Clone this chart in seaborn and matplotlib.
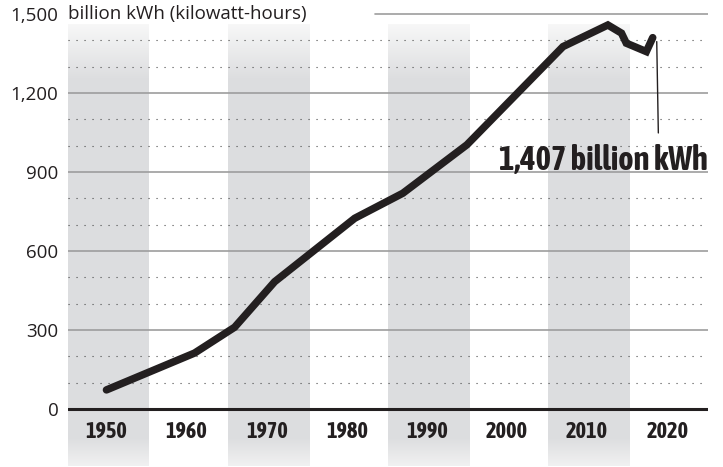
import numpy as np
import matplotlib
matplotlib.use('Agg')
import matplotlib.pyplot as plt
import seaborn as sns

# values (billion kWh)
YEARS = [1950, 1961, 1966, 1971, 1981, 1987, 1995, 2007, 2012.6, 2014.3, 2014.9, 2017.4, 2018.2]
VALUES = [72, 212, 310, 483, 724, 819, 1003, 1376, 1458, 1427, 1389, 1357, 1410]
DECADES = [1950, 1960, 1970, 1980, 1990, 2000, 2010, 2020]
BANDS = [(1945, 1955.3), (1965.2, 1975.4), (1985.1, 1995.3), (2005.1, 2015.3)]
YTICKS = [0, 300, 600, 900, 1200, 1500]
DOTTED = [100, 200, 400, 500, 700, 800, 1000, 1100, 1300, 1400]
UNIT_LABEL = 'billion kWh (kilowatt-hours)'
LAST_LABEL = '1,407 billion kWh'

XLIM = (1945.2, 2025.1)
YLIM = (-217, 1515)
NARROW = ['Asap Condensed', 'DejaVu Sans']


def band_image(y0, y1, n=400):
    # vertical gradient: light at top, grey body, fading below the axis
    ys = np.linspace(y0, y1, n)
    gray = np.array([0.863, 0.867, 0.875])
    light = np.array([0.97, 0.97, 0.97])
    t = np.ones(n)
    top = ys > 1250
    t[top] = np.clip((1460 - ys[top]) / 210, 0, 1)
    bot = ys < -110
    t[bot] = np.clip((ys[bot] + 217) / 107, 0, 1) * 0.75 + 0.25
    cols = light[None, :] * (1 - t[:, None]) + gray[None, :] * t[:, None]
    return cols[::-1][:, None, :]


def main():
    sns.set_style('white')
    plt.rcParams['font.family'] = ['Open Sans', 'DejaVu Sans']

    fig = plt.figure(figsize=(7.23, 4.67), dpi=100)
    ax = fig.add_axes([68 / 723, 1 - 466 / 467, 640 / 723, 456 / 467])

    for x0, x1 in BANDS:
        ax.imshow(band_image(YLIM[0], 1460), extent=(x0, x1, YLIM[0], 1460),
                  aspect='auto', zorder=0, interpolation='bilinear')

    for y in DOTTED:
        ax.axhline(y, color='#4a4a4a', lw=0.8, linestyle=(0, (1, 6.2)), zorder=1)
    for y in YTICKS[1:-1]:
        ax.axhline(y, color='#9d9d9d', lw=1.2, zorder=1)
    ax.axhline(YTICKS[-1], xmin=(375 - 68) / 640, color='#9d9d9d', lw=1.2, zorder=1)
    ax.axhline(0, color='#231f20', lw=2.2, zorder=2)

    sns.lineplot(x=YEARS, y=VALUES, ax=ax, color='#231f20', lw=5.4, zorder=3,
                 solid_capstyle='round', solid_joinstyle='miter')

    # annotation leader and label
    ax.plot([2018.7, 2018.9], [1395, 1048], color='#231f20', lw=1.0, zorder=3)
    ax.text(XLIM[1], 908, LAST_LABEL, ha='right', va='baseline', fontsize=23.5,
            family=NARROW, weight='bold', color='#231f20', zorder=4)

    for yr in DECADES:
        ax.text(yr, -88, str(yr), ha='center', va='center', fontsize=16,
                family=NARROW, weight='bold', color='#231f20')

    ax.text(XLIM[0], 1500, UNIT_LABEL, ha='left', va='center', fontsize=13.5,
            color='#231f20')

    ax.set_xlim(XLIM)
    ax.set_ylim(YLIM)
    ax.set_xticks([])
    ax.set_yticks(YTICKS)
    ax.set_yticklabels([f'{v:,}' for v in YTICKS])
    ax.tick_params(axis='y', length=0, pad=7, labelsize=13.5, labelcolor='#231f20')
    for s in ax.spines.values():
        s.set_visible(False)

    fig.savefig('out.png', dpi=100)


if __name__ == '__main__':
    main()
